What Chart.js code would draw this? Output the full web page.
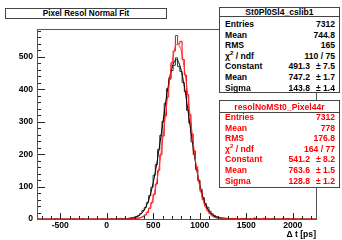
<!DOCTYPE html>
<html>
<head>
<meta charset="utf-8">
<script src="https://cdn.jsdelivr.net/npm/chart.js@4.4.1/dist/chart.umd.min.js"></script>
<style>
  body { margin: 0; background: #fff; }
  #wrap { position: relative; width: 342px; height: 240px; overflow: hidden;
          font-family: "Liberation Sans", Arial, sans-serif; font-weight: bold; }
  #chart { position: absolute; left: 0; top: 0; }
  .box { position: absolute; background: #fff; border: 1px solid #444; box-sizing: border-box; }
  .sep { position: absolute; height: 1px; background: #444; }
  .row { position: absolute; height: 10px; line-height: 10px; font-size: 8.6px; white-space: nowrap; }
  .row span { position: absolute; top: 0; }
  .head { position: absolute; height: 10px; line-height: 10px; font-size: 8.6px; text-align: center; white-space: nowrap; }
  #title { position: absolute; left: 5px; top: 8px; width: 162px; height: 11px; line-height: 9px;
           font-size: 8.2px; text-align: center; }
</style>
</head>
<body>
<div id="wrap">
  <canvas id="chart" width="342" height="240"></canvas>
  <div id="title" class="box">Pixel Resol Normal Fit</div>
</div>
<script>
// histogram binning (ps)
const xMin = -750;
const xMax = 2250;
const binWidth = 24;
const yMax = 586;

const xTicks = [-500, 0, 500, 1000, 1500, 2000];
const yTicks = [0, 100, 200, 300, 400, 500];

// St0Pl0Sl4_cslib1 (black), 125 bins
const blackCounts = [
  0, 0, 0, 0, 0, 0, 0, 0, 1, 0,
  0, 0, 0, 0, 0, 0, 0, 0, 0, 0,
  1, 0, 0, 0, 0, 0, 0, 0, 0, 1,
  0, 0, 0, 1, 0, 1, 0, 2, 1, 2,
  1, 3, 4, 5, 8, 11, 17, 26, 35, 50,
  72, 98, 135, 168, 214, 258, 301, 357, 402, 431,
  458, 474, 497, 470, 455, 421, 393, 335, 296, 238,
  199, 152, 120, 92, 66, 47, 36, 24, 16, 11,
  7, 5, 3, 3, 2, 1, 1, 0, 1, 0,
  0, 0, 1, 0, 0, 0, 0, 1, 0, 0,
  0, 0, 0, 0, 0, 1, 0, 0, 0, 0,
  0, 0, 1, 0, 0, 0, 0, 0, 0, 0,
  0, 0, 0, 0, 0
];

// resolNoMSt0_Pixel44r (red), 125 bins
const redCounts = [
  0, 0, 0, 0, 0, 0, 0, 0, 0, 0,
  0, 0, 0, 0, 0, 0, 1, 0, 0, 0,
  0, 0, 0, 0, 0, 0, 0, 0, 0, 0,
  0, 0, 0, 0, 0, 0, 1, 0, 0, 0,
  0, 1, 0, 1, 2, 3, 4, 7, 12, 20,
  33, 50, 76, 108, 150, 198, 256, 318, 376, 436,
  482, 518, 566, 540, 548, 492, 444, 384, 322, 262,
  210, 161, 118, 86, 60, 40, 27, 18, 12, 8,
  6, 4, 3, 3, 2, 2, 1, 2, 1, 1,
  0, 1, 0, 2, 0, 1, 0, 3, 0, 1,
  0, 2, 0, 1, 0, 0, 1, 0, 0, 0,
  2, 0, 0, 0, 1, 0, 0, 0, 1, 0,
  0, 0, 0, 0, 0
];

// gaussian fit curves
const fitX = [250, 300, 350, 400, 450, 500, 550, 600, 650, 700, 750, 800, 850, 900, 950, 1000, 1050, 1100, 1150, 1200, 1250];
const blackFit = [1.3, 3.9, 10.8, 26.6, 58.0, 112.1, 191.9, 290.7, 390.5, 465.5, 491.3, 459.3, 380.7, 279.7, 181.2, 104.7, 53.5, 24.2, 9.7, 3.5, 1.1];
const redFit = [0.2, 0.8, 3.1, 10.1, 27.9, 66.6, 136.8, 241.3, 366.6, 479.1, 538.2, 520.0, 432.2, 309.4, 189.4, 100.4, 45.6, 17.8, 6.0, 1.7, 0.4];

// stat boxes
const statNames = ['Entries', 'Mean', 'RMS', 'χ<sup style="font-size:6px;line-height:0">2</sup> / ndf', 'Constant', 'Mean', 'Sigma'];
const blackStats = ['7312', '744.8', '165', '110 / 75', '491.3', '747.2', '143.8'];
const blackErrs = ['', '', '', '', '± 7.5', '± 1.7', '± 1.4'];
const redStats = ['7312', '778', '176.8', '164 / 77', '541.2', '763.6', '128.8'];
const redErrs = ['', '', '', '', '± 8.2', '± 1.5', '± 1.2'];

function histPoints(counts) {
  const pts = counts.map((c, i) => ({ x: xMin + i * binWidth, y: c }));
  pts.push({ x: xMin + counts.length * binWidth, y: counts[counts.length - 1] });
  return pts;
}

function curvePoints(xs, ys) {
  return xs.map((x, i) => ({ x: x, y: ys[i] }));
}

const tickFont = { family: '"Liberation Sans", Arial, sans-serif', size: 8.6, weight: 'bold' };

// ROOT style frame with inward ticks
const frameTicks = {
  id: 'frameTicks',
  afterDatasetsDraw(chart) {
    const { ctx, chartArea: a, scales: { x, y } } = chart;
    ctx.save();
    ctx.strokeStyle = '#222';
    ctx.lineWidth = 1;
    ctx.beginPath();
    for (let v = 0; v < yMax; v += 20) {
      const py = Math.round(y.getPixelForValue(v)) + 0.5;
      const len = v % 100 === 0 ? 8 : 4;
      ctx.moveTo(a.left, py);
      ctx.lineTo(a.left + len, py);
    }
    for (let v = -700; v < xMax; v += 100) {
      const px = Math.round(x.getPixelForValue(v)) + 0.5;
      const len = v % 500 === 0 ? 6 : 3;
      ctx.moveTo(px, a.bottom);
      ctx.lineTo(px, a.bottom - len);
    }
    ctx.stroke();
    ctx.strokeStyle = '#555';
    ctx.strokeRect(a.left + 0.5, a.top + 0.5, a.right - a.left, a.bottom - a.top);
    ctx.restore();
  }
};

const ctx = document.getElementById('chart').getContext('2d');
new Chart(ctx, {
  type: 'line',
  data: {
    datasets: [{
      label: 'resolNoMSt0_Pixel44r fit',
      data: curvePoints(fitX, redFit),
      borderColor: '#ff3030',
      borderWidth: 1,
      pointRadius: 0,
      cubicInterpolationMode: 'monotone',
      order: 0
    }, {
      label: 'St0Pl0Sl4_cslib1 fit',
      data: curvePoints(fitX, blackFit),
      borderColor: '#000000',
      borderWidth: 1,
      pointRadius: 0,
      cubicInterpolationMode: 'monotone',
      order: 1
    }, {
      label: 'resolNoMSt0_Pixel44r',
      data: histPoints(redCounts),
      borderColor: '#ff0000',
      borderWidth: 1,
      pointRadius: 0,
      stepped: true,
      order: 2
    }, {
      label: 'St0Pl0Sl4_cslib1',
      data: histPoints(blackCounts),
      borderColor: '#333333',
      borderWidth: 1,
      pointRadius: 0,
      stepped: true,
      order: 3
    }]
  },
  options: {
    responsive: false,
    animation: false,
    layout: { padding: { top: 29, right: 26, left: 0, bottom: 0 } },
    plugins: { legend: { display: false }, tooltip: { enabled: false } },
    scales: {
      x: {
        type: 'linear',
        min: xMin,
        max: xMax,
        grid: { display: false, drawTicks: false },
        border: { display: false },
        afterBuildTicks: s => { s.ticks = xTicks.map(v => ({ value: v })); },
        afterFit: s => { s.height = 21; },
        ticks: { autoSkip: false, maxRotation: 0, padding: 1, color: '#000', font: tickFont,
                 callback: v => String(v) },
        title: { display: true, text: 'Δ t [ps]', align: 'end', color: '#000', font: tickFont, padding: 0 }
      },
      y: {
        type: 'linear',
        min: 0,
        max: yMax,
        grid: { display: false, drawTicks: false },
        border: { display: false },
        afterBuildTicks: s => { s.ticks = yTicks.map(v => ({ value: v })); },
        afterFit: s => { s.width = 37; },
        ticks: { autoSkip: false, padding: 4, color: '#000', font: tickFont, callback: v => String(v) }
      }
    }
  },
  plugins: [frameTicks]
});

// stat boxes as html overlays
const wrap = document.getElementById('wrap');
function addStatBox(name, values, errs, color, top, bottom, headY, lineY, rowY) {
  const box = document.createElement('div');
  box.className = 'box';
  box.style.left = '219px';
  box.style.top = top + 'px';
  box.style.width = '121px';
  box.style.height = (bottom - top) + 'px';
  wrap.appendChild(box);

  const sep = document.createElement('div');
  sep.className = 'sep';
  sep.style.left = '219px';
  sep.style.width = '121px';
  sep.style.top = lineY + 'px';
  wrap.appendChild(sep);

  const head = document.createElement('div');
  head.className = 'head';
  head.style.left = '219px';
  head.style.width = '121px';
  head.style.top = (headY - 5) + 'px';
  head.style.color = color;
  head.textContent = name;
  wrap.appendChild(head);

  statNames.forEach((label, i) => {
    const row = document.createElement('div');
    row.className = 'row';
    row.style.left = '225px';
    row.style.width = '110px';
    row.style.top = (rowY + i * 10.6 - 5) + 'px';
    row.style.color = color;
    let html = '<span style="left:0">' + label + '</span>';
    if (errs[i]) {
      html += '<span style="right:25px">' + values[i] + '</span>';
      html += '<span style="right:0">' + errs[i] + '</span>';
    } else {
      html += '<span style="right:0">' + values[i] + '</span>';
    }
    row.innerHTML = html;
    wrap.appendChild(row);
  });
}

addStatBox('St0Pl0Sl4_cslib1', blackStats, blackErrs, '#000', 7, 93, 11.7, 16, 24);
addStatBox('resolNoMSt0_Pixel44r', redStats, redErrs, '#ff0000', 100, 188, 106.8, 111.5, 117);
</script>
</body>
</html>
